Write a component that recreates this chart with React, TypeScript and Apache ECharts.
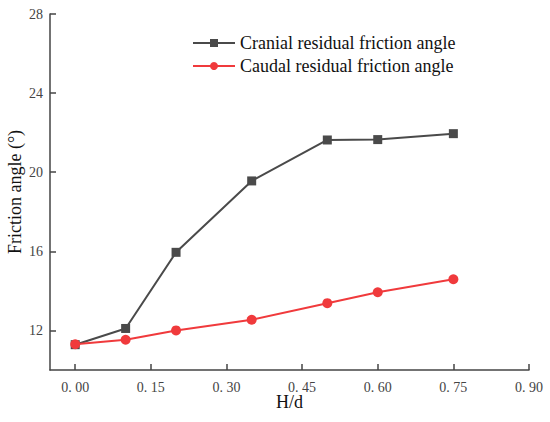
import React, { useEffect, useRef } from "react";
import * as echarts from "echarts";

const xTickValues = [0, 0.15, 0.3, 0.45, 0.6, 0.75, 0.9];
const yTickValues = [12, 16, 20, 24, 28];
const hdValues = [0, 0.1, 0.2, 0.35, 0.5, 0.6, 0.75];
const cranial = [11.28, 12.1, 15.95, 19.56, 21.63, 21.65, 21.95];
const caudal = [11.3, 11.53, 12.0, 12.54, 13.38, 13.93, 14.59];
const seriesNames = ["Cranial residual friction angle", "Caudal residual friction angle"];

const serif = "'Liberation Serif', 'Times New Roman', serif";

export default function App() {
  const ref = useRef<HTMLDivElement>(null);
  useEffect(() => {
    if (!ref.current) return;
    const chart = echarts.init(ref.current, undefined, { renderer: "svg" });
    chart.setOption({
      animation: false,
      backgroundColor: "#ffffff",
      grid: { left: 50, right: 21, top: 14, bottom: 52, containLabel: false, outerBoundsMode: "none" },
      legend: {
        orient: "vertical",
        left: 192,
        top: 34,
        padding: 0,
        itemWidth: 42,
        itemHeight: 10,
        itemGap: 5,
        textStyle: { fontFamily: serif, fontSize: 18, color: "#111" },
        data: seriesNames,
      },
      xAxis: {
        type: "value",
        min: -0.05,
        max: 0.9,
        name: "H/d",
        nameLocation: "middle",
        nameGap: 23,
        nameMoveOverlap: false,
        nameTextStyle: { fontFamily: serif, fontSize: 18, color: "#111" },
        splitLine: { show: false },
        axisLine: { show: true, onZero: false, lineStyle: { color: "#444", width: 1.5 } },
        axisTick: { show: true, inside: true, length: 6, customValues: xTickValues, lineStyle: { color: "#444", width: 1.5 } },
        axisLabel: {
          customValues: xTickValues,
          margin: 10,
          fontFamily: serif,
          fontSize: 14,
          color: "#444",
          formatter: (v: number) => v.toFixed(2).replace(".", ". "),
        },
      },
      yAxis: {
        type: "value",
        min: 10,
        max: 28,
        name: "Friction angle (°)",
        nameLocation: "middle",
        nameGap: 26,
        nameMoveOverlap: false,
        nameTextStyle: { fontFamily: serif, fontSize: 18, color: "#111" },
        splitLine: { show: false },
        axisLine: { show: true, onZero: false, lineStyle: { color: "#444", width: 1.5 } },
        axisTick: { show: true, inside: true, length: 6, customValues: yTickValues, lineStyle: { color: "#444", width: 1.5 } },
        axisLabel: {
          customValues: yTickValues,
          margin: 7,
          fontFamily: serif,
          fontSize: 14,
          color: "#444",
        },
      },
      series: [
        {
          name: seriesNames[0],
          type: "line",
          data: hdValues.map((x, i) => [x, cranial[i]]),
          symbol: "rect",
          symbolSize: 9,
          color: "#4a4a4a",
          lineStyle: { width: 2, color: "#4a4a4a" },
          itemStyle: { color: "#4a4a4a" },
        },
        {
          name: seriesNames[1],
          type: "line",
          data: hdValues.map((x, i) => [x, caudal[i]]),
          symbol: "circle",
          symbolSize: 10,
          color: "#f03a3c",
          lineStyle: { width: 2, color: "#f03a3c" },
          itemStyle: { color: "#f03a3c" },
        },
      ],
    });
    return () => chart.dispose();
  }, []);
  return (
    <div
      ref={ref}
      style={{ position: "absolute", left: 0, top: 0, width: 550, height: 422 }}
    />
  );
}
